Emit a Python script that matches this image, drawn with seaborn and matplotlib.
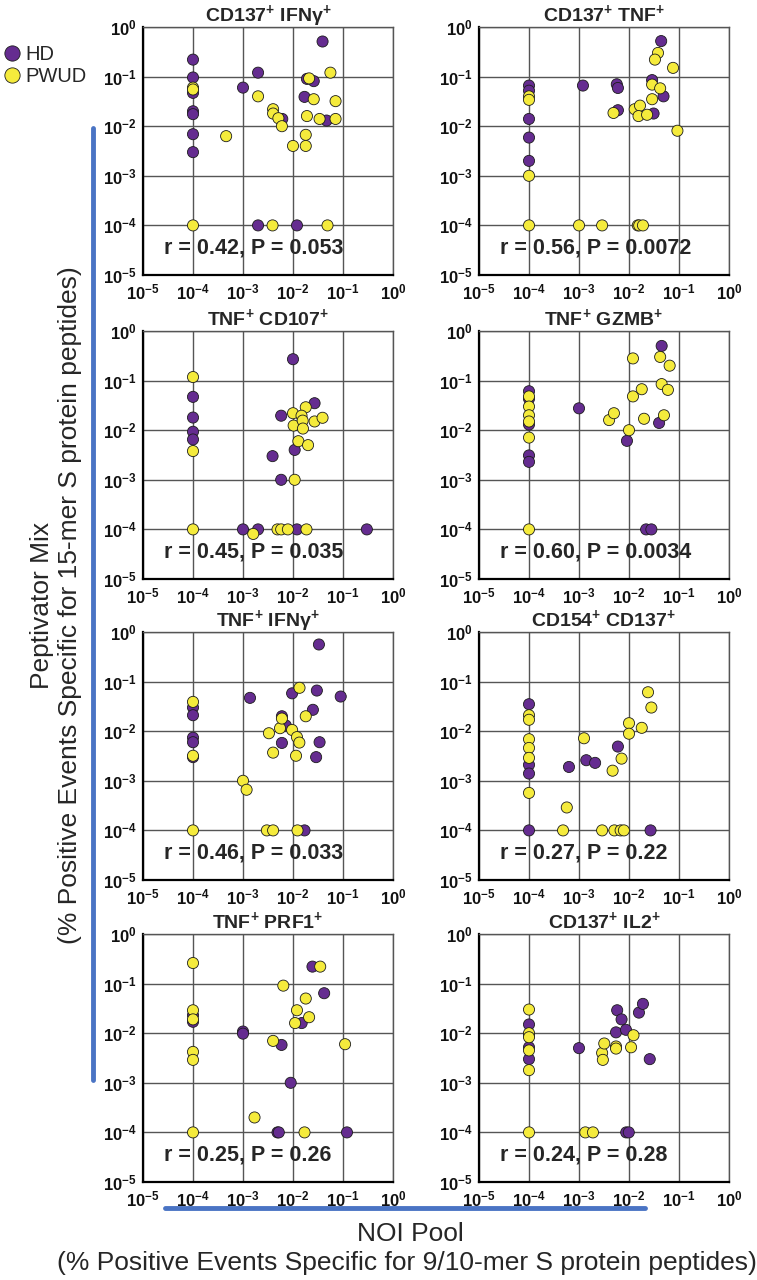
import numpy as np
import pandas as pd
import matplotlib
matplotlib.use("Agg")
import matplotlib.pyplot as plt
import seaborn as sns
from matplotlib.lines import Line2D
from matplotlib.ticker import FixedLocator, LogLocator, FuncFormatter, NullFormatter

# panel titles and correlation stats
titles = ["CD137$^{+}$ IFNγ$^{+}$", "CD137$^{+}$ TNF$^{+}$",
          "TNF$^{+}$ CD107$^{+}$", "TNF$^{+}$ GZMB$^{+}$",
          "TNF$^{+}$ IFNγ$^{+}$", "CD154$^{+}$ CD137$^{+}$",
          "TNF$^{+}$ PRF1$^{+}$", "CD137$^{+}$ IL2$^{+}$"]
r_vals = ["0.42", "0.56", "0.45", "0.60", "0.46", "0.27", "0.25", "0.24"]
p_vals = ["0.053", "0.0072", "0.035", "0.0034", "0.033", "0.22", "0.26", "0.28"]

# (NOI pool, Peptivator mix) pairs
cd137_ifng_hd = [(1e-4, 0.22), (1e-4, 0.096), (1e-4, 0.047), (1e-4, 0.02), (1e-4, 0.0175),
                 (1e-4, 0.0069), (1e-4, 0.003), (1e-3, 0.06), (0.002, 0.12), (0.0061, 0.014),
                 (0.002, 1e-4), (0.012, 1e-4), (0.017, 0.039), (0.019, 0.09), (0.026, 0.081),
                 (0.039, 0.51), (0.047, 0.013)]
cd137_ifng_pwud = [(1e-4, 0.06), (1e-4, 0.055), (1e-4, 1e-4), (0.00046, 0.0063), (0.002, 0.04),
                   (0.004, 0.022), (0.004, 0.018), (0.0051, 0.0145), (0.006, 0.01), (0.01, 0.004),
                   (0.0039, 1e-4), (0.049, 1e-4), (0.018, 0.0067), (0.018, 0.004), (0.019, 0.016),
                   (0.021, 0.092), (0.026, 0.035), (0.034, 0.014), (0.056, 0.12), (0.071, 0.032),
                   (0.071, 0.014)]

cd137_tnf_hd = [(1e-4, 0.066), (1e-4, 0.052), (1e-4, 0.014), (1e-4, 0.0059), (1e-4, 0.002),
                (0.0012, 0.066), (0.0057, 0.07), (0.006, 0.059), (0.006, 0.021), (0.031, 0.018),
                (0.029, 0.085), (0.049, 0.04), (0.044, 0.52)]
cd137_tnf_pwud = [(1e-4, 0.04), (1e-4, 0.034), (1e-4, 1e-3), (1e-4, 1e-4), (1e-3, 1e-4),
                  (0.0029, 1e-4), (0.015, 1e-4), (0.016, 1e-4), (0.019, 1e-4), (0.0049, 0.0185),
                  (0.013, 0.022), (0.0166, 0.026), (0.0155, 0.016), (0.023, 0.017), (0.029, 0.035),
                  (0.029, 0.069), (0.042, 0.058), (0.038, 0.3), (0.033, 0.22), (0.076, 0.15),
                  (0.093, 0.0081)]

tnf_cd107_hd = [(1e-4, 0.047), (1e-4, 0.018), (1e-4, 0.0093), (1e-4, 0.0065), (1e-3, 1e-4),
                (0.002, 1e-4), (0.0039, 0.003), (0.0058, 0.0196), (0.0058, 0.001), (0.01, 0.27),
                (0.0108, 0.004), (0.012, 1e-4), (0.027, 0.035), (0.30, 1e-4)]
tnf_cd107_pwud = [(1e-4, 0.118), (1e-4, 0.0038), (1e-4, 1e-4), (0.0016, 8.1e-5), (0.0049, 1e-4),
                  (0.0058, 1e-4), (0.0079, 1e-4), (0.01, 0.022), (0.0103, 0.0124), (0.0108, 0.001),
                  (0.0128, 0.006), (0.018, 0.029), (0.0148, 0.0196), (0.0156, 0.0156),
                  (0.0158, 0.0108), (0.0186, 1e-4), (0.02, 0.005), (0.027, 0.015), (0.039, 0.0178)]

tnf_gzmb_hd = [(1e-4, 0.061), (1e-4, 0.043), (1e-4, 0.013), (1e-4, 0.0031), (1e-4, 0.0023),
               (1e-3, 0.0276), (0.0091, 0.0061), (0.022, 1e-4), (0.028, 1e-4), (0.045, 0.5),
               (0.04, 0.014)]
tnf_gzmb_pwud = [(1e-4, 0.048), (1e-4, 0.030), (1e-4, 0.020), (1e-4, 0.015), (1e-4, 0.0071),
                 (1e-4, 1e-4), (0.004, 0.016), (0.005, 0.022), (0.01, 0.01), (0.012, 0.28),
                 (0.012, 0.048), (0.018, 0.067), (0.02, 0.017), (0.042, 0.3), (0.065, 0.2),
                 (0.045, 0.085), (0.06, 0.065), (0.05, 0.02)]

tnf_ifng_hd = [(1e-4, 0.030), (1e-4, 0.021), (1e-4, 0.0074), (1e-4, 0.006), (1e-4, 0.003),
               (0.00138, 0.047), (0.006, 0.02), (0.006, 0.0058), (0.0072, 0.013), (0.0096, 0.058),
               (0.017, 1e-4), (0.025, 0.027), (0.030, 0.066), (0.029, 0.003), (0.033, 0.56),
               (0.034, 0.006), (0.09, 0.05)]
tnf_ifng_pwud = [(1e-4, 0.039), (1e-4, 0.0032), (1e-4, 1e-4), (1e-3, 1e-3), (0.00118, 0.00066),
                 (0.0033, 0.0091), (0.004, 0.0037), (0.003, 1e-4), (0.004, 1e-4), (0.0055, 0.0115),
                 (0.006, 0.018), (0.0096, 0.0106), (0.0115, 0.0032), (0.012, 0.0076),
                 (0.0134, 0.0059), (0.0123, 1e-4), (0.0135, 0.075), (0.018, 0.02)]

cd154_cd137_hd = [(1e-4, 0.035), (1e-4, 0.0021), (1e-4, 0.0014), (1e-4, 1e-4), (0.00063, 0.0019),
                  (0.0014, 0.0026), (0.0021, 0.0023), (0.006, 0.0049), (0.027, 1e-4)]
cd154_cd137_pwud = [(1e-4, 0.021), (1e-4, 0.017), (1e-4, 0.0069), (1e-4, 0.0046), (1e-4, 0.0029),
                    (1e-4, 0.00057), (0.00048, 1e-4), (0.00057, 0.00029), (0.00126, 0.0072),
                    (0.0029, 1e-4), (0.0047, 0.0016), (0.0051, 1e-4), (0.0068, 1e-4),
                    (0.0079, 1e-4), (0.0071, 0.0028), (0.01, 0.0145), (0.01, 0.0089),
                    (0.018, 0.0117), (0.024, 0.061), (0.028, 0.03)]

tnf_prf1_hd = [(1e-4, 0.023), (1e-4, 0.017), (1e-3, 0.0108), (1e-3, 0.0098), (0.0059, 0.0058),
               (0.0049, 1e-4), (0.0052, 1e-4), (0.009, 0.001), (0.0149, 0.016), (0.0245, 0.22),
               (0.042, 0.064), (0.12, 1e-4)]
tnf_prf1_pwud = [(1e-4, 0.26), (1e-4, 0.029), (1e-4, 0.019), (1e-4, 0.0042), (1e-4, 0.0029),
                 (1e-4, 1e-4), (0.0017, 0.0002), (0.004, 0.007), (0.0064, 0.091), (0.011, 0.016),
                 (0.012, 0.029), (0.017, 1e-4), (0.018, 0.05), (0.021, 0.021), (0.035, 0.22),
                 (0.11, 0.006)]

cd137_il2_hd = [(1e-4, 0.015), (1e-4, 0.009), (1e-4, 0.0052), (1e-4, 0.003), (1e-3, 0.005),
                (0.0055, 0.0104), (0.0058, 0.029), (0.0071, 0.019), (0.0087, 0.0117),
                (0.0088, 1e-4), (0.0099, 1e-4), (0.0158, 0.026), (0.019, 0.039), (0.026, 0.003)]
cd137_il2_pwud = [(1e-4, 0.030), (1e-4, 0.01), (1e-4, 0.0083), (1e-4, 0.0045), (1e-4, 0.0018),
                  (1e-4, 1e-4), (0.00134, 1e-4), (0.0019, 1e-4), (0.0029, 0.004), (0.003, 0.0029),
                  (0.0032, 0.0062), (0.0055, 0.0054), (0.0055, 0.0049), (0.011, 0.0052),
                  (0.0123, 0.0091)]

panels = [(cd137_ifng_hd, cd137_ifng_pwud), (cd137_tnf_hd, cd137_tnf_pwud),
          (tnf_cd107_hd, tnf_cd107_pwud), (tnf_gzmb_hd, tnf_gzmb_pwud),
          (tnf_ifng_hd, tnf_ifng_pwud), (cd154_cd137_hd, cd154_cd137_pwud),
          (tnf_prf1_hd, tnf_prf1_pwud), (cd137_il2_hd, cd137_il2_pwud)]

PURPLE = "#652c90"
YELLOW = "#f5eb3c"
GRID = "#555555"
BLUE = "#4a74c4"

sns.set_style("white")
plt.rcParams["font.family"] = ["Liberation Sans", "DejaVu Sans"]
plt.rcParams["mathtext.fontset"] = "custom"
plt.rcParams["mathtext.rm"] = "Liberation Sans:bold"
plt.rcParams["mathtext.bf"] = "Liberation Sans:bold"
plt.rcParams["mathtext.it"] = "Liberation Sans:bold:italic"
plt.rcParams["mathtext.default"] = "bf"

W, H = 757, 1280
fig = plt.figure(figsize=(W / 100, H / 100), dpi=100)

col_x = [143, 479]
row_top = [27, 331, 632, 934]
aw, ah = 250, 248

decades = [10.0 ** k for k in range(-5, 1)]
fmt = FuncFormatter(lambda v, pos: r"$10^{%d}$" % int(round(np.log10(v))))

for i, (hd, pwud) in enumerate(panels):
    x0 = col_x[i % 2]
    top = row_top[i // 2]
    ax = fig.add_axes([x0 / W, 1 - (top + ah) / H, aw / W, ah / H])

    df = pd.DataFrame(
        [(x, y, "HD") for x, y in hd] + [(x, y, "PWUD") for x, y in pwud],
        columns=["noi", "pepti", "group"])
    sns.scatterplot(data=df, x="noi", y="pepti", hue="group",
                    palette={"HD": PURPLE, "PWUD": YELLOW}, s=64,
                    edgecolor="#1c1c1c", linewidth=0.6, legend=False, ax=ax, zorder=3)

    ax.set_xscale("log")
    ax.set_yscale("log")
    ax.set_xlim(1e-5, 1)
    ax.set_ylim(1e-5, 1)
    for axis in (ax.xaxis, ax.yaxis):
        axis.set_major_locator(FixedLocator(decades))
        axis.set_major_formatter(fmt)
        axis.set_minor_locator(LogLocator(base=10, subs=np.arange(2, 10), numticks=20))
        axis.set_minor_formatter(NullFormatter())
    ax.grid(True, which="major", color=GRID, lw=1.0)
    ax.set_axisbelow(True)
    ax.tick_params(which="major", direction="out", length=3, width=1.2, labelsize=12,
                   labelcolor="#111111")
    ax.tick_params(axis="x", which="major", pad=2.5)
    ax.tick_params(axis="y", which="major", pad=1.5)
    ax.tick_params(which="minor", direction="out", length=2, width=0.8)
    for s in ("left", "bottom"):
        ax.spines[s].set_color("black")
        ax.spines[s].set_linewidth(1.6)
    for s in ("top", "right"):
        ax.spines[s].set_color(GRID)
        ax.spines[s].set_linewidth(1.0)
    ax.set_xlabel("")
    ax.set_ylabel("")
    ax.set_title(titles[i], fontsize=14, fontweight="bold", pad=4)
    ax.text(0.085, 0.11, f"r = {r_vals[i]}, P = {p_vals[i]}", transform=ax.transAxes,
            fontsize=15.5, fontweight="bold", ha="left", va="center", zorder=5)

# legend in the top-left corner
handles = [Line2D([], [], marker="o", ls="", markersize=11, markerfacecolor=c,
                  markeredgecolor="#1c1c1c", markeredgewidth=0.6) for c in (PURPLE, YELLOW)]
fig.legend(handles, ["HD", "PWUD"], loc="upper left", bbox_to_anchor=(0.0, 1 - 43 / H),
           frameon=False, fontsize=14.5, handletextpad=0.15, handlelength=1.0,
           borderpad=0.1, borderaxespad=0, labelspacing=0.15)

# axis titles with blue bars
fig.add_artist(Line2D([93 / W, 93 / W], [1 - 128 / H, 1 - 1080 / H], color=BLUE, lw=3.5))
fig.add_artist(Line2D([165 / W, 645 / W], [1 - 1208 / H, 1 - 1208 / H], color=BLUE, lw=3.5))
fig.text(42 / W, 1 - 605 / H, "Peptivator Mix", rotation=90, fontsize=19,
         ha="center", va="center")
fig.text(70 / W, 1 - 605 / H, "(% Positive Events Specific for 15-mer S protein peptides)",
         rotation=90, fontsize=19, ha="center", va="center")
fig.text(410 / W, 1 - 1234 / H, "NOI Pool", fontsize=19, ha="center", va="center")
fig.text(407 / W, 1 - 1263 / H, "(% Positive Events Specific for 9/10-mer S protein peptides)",
         fontsize=19, ha="center", va="center")

fig.savefig("out.png", dpi=100)
